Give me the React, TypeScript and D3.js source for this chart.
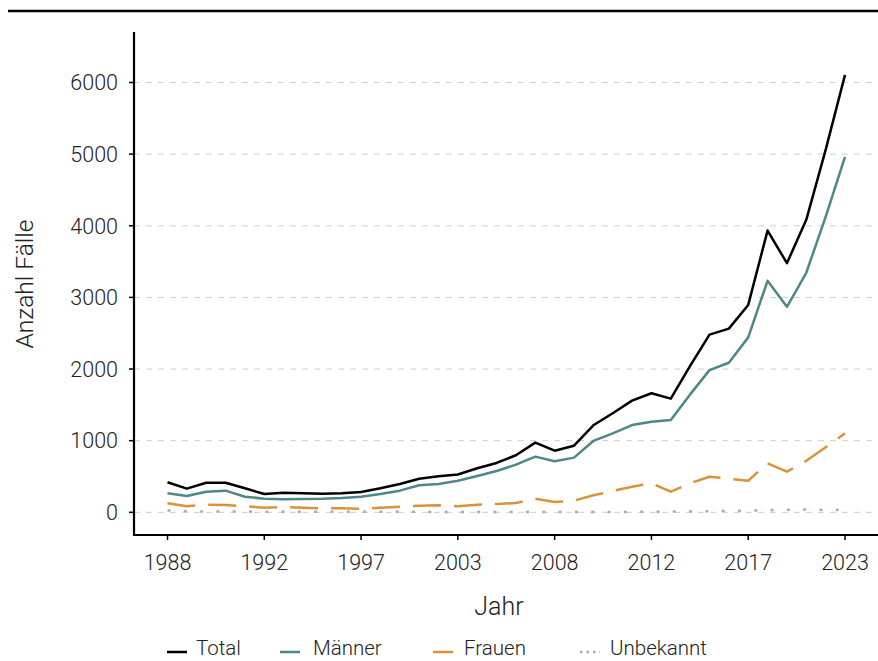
import React from "react";
import * as d3 from "d3";

const years: number[] = d3.range(1988, 2024);

const total: number[] = [
  419, 330, 413, 413, 335, 256, 274, 265, 258, 265, 283, 335,
  395, 469, 504, 528, 615, 689, 796, 972, 860, 930, 1215, 1383,
  1559, 1662, 1587, 2043, 2480, 2564, 2895, 3933, 3478, 4083, 5060, 6107,
];
const maenner: number[] = [
  265, 228, 288, 302, 218, 190, 181, 186, 190, 200, 218, 256,
  302, 377, 395, 441, 507, 577, 665, 777, 712, 763, 996, 1103,
  1218, 1264, 1288, 1646, 1985, 2088, 2442, 3232, 2869, 3344, 4125, 4962,
];
const frauen: number[] = [
  125, 84, 106, 102, 85, 64, 74, 64, 56, 56, 50, 64,
  78, 92, 98, 84, 106, 116, 130, 190, 144, 162, 237, 297,
  357, 405, 288, 405, 497, 469, 441, 684, 567, 720, 907, 1102,
];
const unbekannt: number[] = [
  25, 15, 10, 10, 10, 8, 8, 8, 8, 8, 8, 6,
  6, 6, 5, 5, 5, 5, 5, 5, 5, 5, 5, 5,
  5, 8, 10, 12, 15, 18, 22, 30, 35, 38, 32, 35,
];

const seriesNames: string[] = ["Total", "Männer", "Frauen", "Unbekannt"];
const yTicks: number[] = [0, 1000, 2000, 3000, 4000, 5000, 6000];
const xTickValues: number[] = [1988, 1993, 1998, 2003, 2008, 2013, 2018, 2023];
const xTickLabels: string[] = ["1988", "1992", "1997", "2003", "2008", "2012", "2017", "2023"];

const FONT = "Roboto, 'Noto Sans', sans-serif";

export default function App() {
  const W = 878;
  const H = 661;
  const panelLeft = 134;
  const panelRight = 878;
  const panelTop = 32;
  const panelBottom = 535;

  const x = d3.scaleLinear().domain([1988, 2023]).range([167.5, 845]);
  const y = d3.scaleLinear().domain([0, 6000]).range([512.3, 82.5]);

  const styles = [
    { color: "#000000", dash: undefined as string | undefined, legDash: undefined as string | undefined, width: 2.5 },
    { color: "#4e878a", dash: undefined, legDash: undefined, width: 2.5 },
    { color: "#dc9239", dash: "28,13", legDash: "28,13", width: 2.5 },
    { color: "#ababab", dash: "3,13.3", legDash: "2.5,4", width: 2.5 },
  ];
  const data = [total, maenner, frauen, unbekannt];

  const line = (vals: number[]) =>
    d3
      .line<number>()
      .x((_, i) => x(years[i]))
      .y((v) => y(v))(vals) || "";

  const legendX = [167, 280, 433, 580];
  const legendTextOffset = [29, 33, 31, 30];

  return (
    <svg
      width={W}
      height={H}
      style={{ position: "absolute", left: 0, top: 0, background: "#fff" }}
      fontFamily={FONT}
    >
      {/* top rule */}
      <line x1={8} x2={878} y1={11} y2={11} stroke="#000" strokeWidth={2.7} />

      {/* grid */}
      {yTicks.map((t) => (
        <line
          key={"g" + t}
          x1={panelLeft}
          x2={panelRight}
          y1={y(t)}
          y2={y(t)}
          stroke="#cfcfcf"
          strokeWidth={1}
          strokeDasharray="6,6"
        />
      ))}

      {/* series */}
      {data
        .map((vals, k) => ({ vals, k }))
        .reverse()
        .map(({ vals, k }) => (
          <path
            key={"s" + k}
            d={line(vals)}
            fill="none"
            stroke={styles[k].color}
            strokeWidth={styles[k].width}
            strokeDasharray={styles[k].dash}
            strokeLinejoin="round"
          />
        ))}

      {/* axes */}
      <line x1={panelLeft} x2={panelLeft} y1={panelTop} y2={panelBottom + 1} stroke="#000" strokeWidth={2.2} />
      <line x1={panelLeft - 1} x2={panelRight} y1={panelBottom} y2={panelBottom} stroke="#000" strokeWidth={2.2} />

      {yTicks.map((t) => (
        <g key={"yt" + t}>
          <line x1={panelLeft - 5} x2={panelLeft} y1={y(t)} y2={y(t)} stroke="#000" strokeWidth={1.5} />
          <text
            x={118}
            y={y(t)}
            dy="0.36em"
            textAnchor="end"
            fontSize={21.5}
            fontWeight={300}
            fill="#222"
          >
            {t}
          </text>
        </g>
      ))}

      {xTickValues.map((t, i) => (
        <g key={"xt" + t}>
          <line x1={x(t)} x2={x(t)} y1={panelBottom} y2={panelBottom + 5} stroke="#000" strokeWidth={1.5} />
          <text
            x={x(t)}
            y={570}
            textAnchor="middle"
            fontSize={21.5}
            fontWeight={300}
            fill="#222"
          >
            {xTickLabels[i]}
          </text>
        </g>
      ))}

      {/* axis titles */}
      <text x={499} y={615} textAnchor="middle" fontSize={25} fontWeight={300} fill="#222">
        Jahr
      </text>
      <text
        transform="translate(33,284) rotate(-90)"
        textAnchor="middle"
        fontSize={24.5}
        fontWeight={300}
        fill="#222"
      >
        Anzahl Fälle
      </text>

      {/* legend */}
      {seriesNames.map((name, k) => (
        <g key={"l" + k}>
          <line
            x1={legendX[k]}
            x2={legendX[k] + 20}
            y1={652}
            y2={652}
            stroke={styles[k].color}
            strokeWidth={2.5}
            strokeDasharray={styles[k].legDash}
          />
          <text
            x={legendX[k] + legendTextOffset[k]}
            y={655}
            fontSize={20.5}
            fontWeight={300}
            fill="#222"
          >
            {name}
          </text>
        </g>
      ))}
    </svg>
  );
}
